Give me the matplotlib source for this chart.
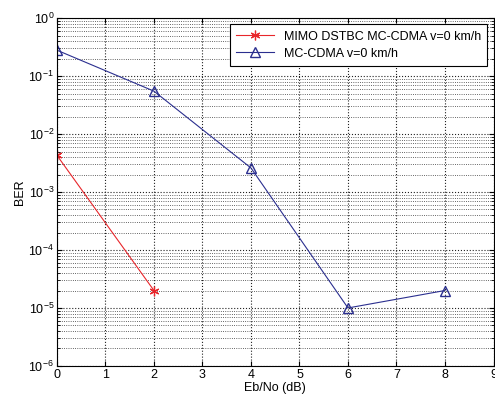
import matplotlib
matplotlib.use("Agg")
import matplotlib.pyplot as plt

# Eb/No values (dB) and BER for each scheme
snr_mimo = [0, 2]
ber_mimo = [4.3e-3, 2e-5]

snr_mc = [0, 2, 4, 6, 8]
ber_mc = [0.28, 0.055, 2.6e-3, 1e-5, 2e-5]

x_ticks = [0, 1, 2, 3, 4, 5, 6, 7, 8, 9]

plt.rcParams['font.family'] = ['Liberation Sans', 'DejaVu Sans']
plt.rcParams['font.size'] = 9

fig = plt.figure(figsize=(4.95, 4.03), dpi=100)
ax = fig.add_axes([0.115, 0.092, 0.882, 0.863])

# MATLAB-style asterisk marker
ax.semilogy(snr_mimo, ber_mimo, color='#e8262b', marker=(6, 2, 0), markersize=7,
            markeredgewidth=0.9, linewidth=0.8, label='MIMO DSTBC MC-CDMA v=0 km/h')
ax.semilogy(snr_mc, ber_mc, color='#2b2f8f', marker='^', markersize=7,
            markerfacecolor='none', linewidth=0.8, label='MC-CDMA v=0 km/h')

ax.set_xlim(0, 9)
ax.set_ylim(1e-6, 1e0)
ax.set_xticks(x_ticks)
ax.grid(True, which='major', linestyle=':', color='#222222', linewidth=0.8)
ax.grid(True, which='minor', axis='y', linestyle=':', color='#333333', linewidth=0.6)
ax.tick_params(which='both', direction='in', top=True, right=True)
ax.tick_params(which='major', pad=2)
ax.set_xlabel('Eb/No (dB)', labelpad=1)
ax.set_ylabel('BER', labelpad=2)

leg = ax.legend(loc='upper right', fancybox=False, framealpha=1,
                edgecolor='black', borderaxespad=0.5, handlelength=3,
                borderpad=0.5, labelspacing=0.4)
leg.get_frame().set_linewidth(0.8)

fig.savefig('out.png', dpi=100)
